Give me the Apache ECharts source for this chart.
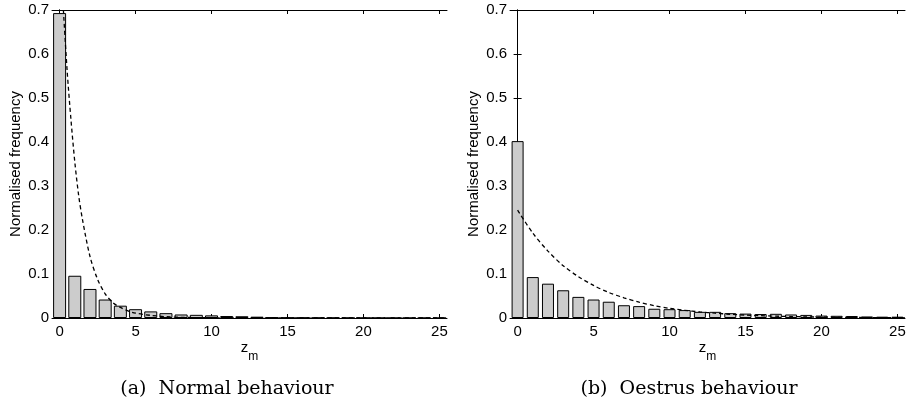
<!DOCTYPE html>
<html>
<head>
<meta charset="utf-8">
<script src="https://cdn.jsdelivr.net/npm/echarts@6/dist/echarts.min.js"></script>
<style>
html,body{margin:0;padding:0;background:#fff;}
#chart{width:909px;height:405px;}
</style>
</head>
<body>
<div id="chart"></div>
<script>
// ---- data ----
var zValues = [0,1,2,3,4,5,6,7,8,9,10,11,12,13,14,15,16,17,18,19,20,21,22,23,24,25];
var normalFreq = [0.693,0.096,0.066,0.042,0.028,0.020,0.015,0.011,0.008,0.0072,0.006,0.0045,0.004,0.003,0.0015,0.001,0.0008,0.0006,0.0005,0.0004,0.0003,0.0002,0.0002,0.0001,0.0001,0.0001];
var oestrusFreq = [0.402,0.093,0.078,0.063,0.048,0.042,0.037,0.029,0.027,0.021,0.020,0.018,0.014,0.014,0.011,0.010,0.009,0.0095,0.008,0.007,0.0055,0.005,0.0045,0.0035,0.003,0.003];
var normalFitX = [0.25,0.5,0.75,1,1.25,1.5,2,2.5,3,3.5,4,4.5,5,6,7,8,9,10,12,15,20,25.5];
var normalFitY = [0.70,0.56,0.45,0.355,0.28,0.225,0.14,0.088,0.055,0.035,0.024,0.016,0.011,0.006,0.003,0.0015,0.0008,0.0004,0.0001,0,0,0];
var oestrusFitX = [0,1,2,3,4,5,6,7,8,9,10,11,12,13,14,15,16,17,18,19,20,21,22,23,24,25,25.5];
var oestrusFitY = [0.245,0.193,0.152,0.119,0.094,0.074,0.058,0.046,0.036,0.028,0.022,0.0175,0.0138,0.011,0.0085,0.0067,0.0053,0.0042,0.0033,0.0026,0.002,0.0016,0.0013,0.001,0.0008,0.0006,0.0005];
var xTicks = [0,5,10,15,20,25];
var yTicks = [0,0.1,0.2,0.3,0.4,0.5,0.6,0.7];
var yAxisTitle = 'Normalised frequency';
var captions = ['(a)  Normal behaviour', '(b)  Oestrus behaviour'];

function pairs(xs, ys){ return xs.map(function(x,i){ return [x, ys[i]]; }); }

var SANS = 'Liberation Sans, Arial, sans-serif';
var grids = [
  {left:52, top:10, width:395, height:308},
  {left:510, top:10, width:395, height:308}
];
var tickFont = {fontFamily:SANS, fontSize:15, color:'#000'};

var xAxes = [], yAxes = [], series = [];
[0,1].forEach(function(g){
  xAxes.push({
    type:'value', gridIndex:g, min:-0.5, max:25.5, position:'bottom',
    axisLine:{show:true, onZero:false, lineStyle:{color:'#000', width:1}},
    axisTick:{show:true, inside:true, length:4, customValues:xTicks, lineStyle:{color:'#000'}},
    axisLabel:Object.assign({show:true, margin:6, customValues:xTicks}, tickFont),
    splitLine:{show:false},
    name:'{z|z}{m|m}', nameLocation:'middle', nameGap:22, nameMoveOverlap:false,
    nameTextStyle:{rich:{
      z:{fontFamily:SANS, fontSize:15, color:'#000', lineHeight:16},
      m:{fontFamily:SANS, fontSize:12, color:'#000', padding:[17,0,0,0], lineHeight:14}
    }}
  });
  xAxes.push({
    type:'value', gridIndex:g, min:-0.5, max:25.5, position:'top',
    axisLine:{show:true, onZero:false, lineStyle:{color:'#000', width:1}},
    axisTick:{show:true, inside:true, length:4, customValues:xTicks, lineStyle:{color:'#000'}},
    axisLabel:{show:false}, splitLine:{show:false}
  });
  yAxes.push({
    type:'value', gridIndex:g, min:0, max:0.7, interval:0.1, position:'left',
    axisLine:{show:true, lineStyle:{color:'#000', width:1}},
    axisTick:{show:true, inside:true, length:4, lineStyle:{color:'#000'}},
    axisLabel:Object.assign({show:true, margin:3, formatter:function(v){ return v===0 ? '0' : v.toFixed(1); }}, tickFont),
    splitLine:{show:false},
    name:yAxisTitle, nameLocation:'middle', nameGap:29, nameMoveOverlap:false,
    nameTextStyle:{fontFamily:SANS, fontSize:15, color:'#000'}
  });
  yAxes.push({
    type:'value', gridIndex:g, min:0, max:0.7, interval:0.1, position:'right',
    axisLine:{show:true, lineStyle:{color:'#000', width:1}},
    axisTick:{show:true, inside:true, length:4, lineStyle:{color:'#000'}},
    axisLabel:{show:false}, splitLine:{show:false}
  });
});

series.push({
  type:'bar', xAxisIndex:0, yAxisIndex:0, barWidth:13,
  data:pairs(zValues, normalFreq),
  itemStyle:{color:'#cccccc', borderColor:'#000', borderWidth:1},
  silent:true, z:2
});
series.push({
  type:'line', xAxisIndex:0, yAxisIndex:0, data:pairs(normalFitX, normalFitY),
  showSymbol:false, symbol:'none', smooth:0.3, clip:true,
  lineStyle:{color:'#000', width:1.3, type:[4,3]}, z:3, silent:true
});
series.push({
  type:'bar', xAxisIndex:2, yAxisIndex:2, barWidth:12,
  data:pairs(zValues, oestrusFreq),
  itemStyle:{color:'#cccccc', borderColor:'#000', borderWidth:1},
  silent:true, z:2
});
series.push({
  type:'line', xAxisIndex:2, yAxisIndex:2, data:pairs(oestrusFitX, oestrusFitY),
  showSymbol:false, symbol:'none', smooth:0.3, clip:true,
  lineStyle:{color:'#000', width:1.3, type:[4,3]}, z:3, silent:true
});

var capStyle = {fontFamily:'DejaVu Serif, Liberation Serif, serif', fontSize:19, fontWeight:'normal', color:'#000'};
var chart = echarts.init(document.getElementById('chart'), null, {renderer:'canvas'});
chart.setOption({
  animation:false,
  backgroundColor:'#fff',
  grid:grids,
  xAxis:xAxes,
  yAxis:yAxes,
  series:series,
  title:[
    {text:captions[0], left:222, top:375, textAlign:'center', textStyle:capStyle},
    {text:captions[1], left:684, top:375, textAlign:'center', textStyle:capStyle}
  ]
});
</script>
</body>
</html>
